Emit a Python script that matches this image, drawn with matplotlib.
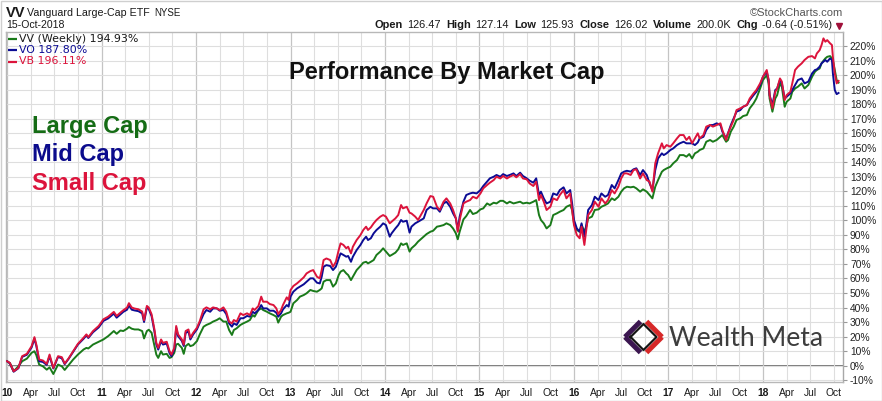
import matplotlib
matplotlib.use("Agg")
import matplotlib.pyplot as plt
from matplotlib.patches import Rectangle

# ---------------- data (decimal year, % performance) ----------------
dates = [
    2010.00, 2010.03, 2010.07, 2010.12, 2010.16, 2010.21, 2010.26, 2010.29, 2010.31, 2010.34,
    2010.38, 2010.42, 2010.45, 2010.49, 2010.54, 2010.58, 2010.61, 2010.65, 2010.70, 2010.75,
    2010.81, 2010.84, 2010.86, 2010.91, 2010.97, 2011.02, 2011.07, 2011.13, 2011.16, 2011.20,
    2011.23, 2011.27, 2011.29, 2011.32, 2011.35, 2011.39, 2011.43, 2011.45, 2011.48, 2011.50,
    2011.53, 2011.56, 2011.58, 2011.60, 2011.63, 2011.65, 2011.69, 2011.72, 2011.74, 2011.77,
    2011.79, 2011.81, 2011.85, 2011.87, 2011.89, 2011.92, 2011.94, 2011.97, 2012.01, 2012.04,
    2012.08, 2012.11, 2012.15, 2012.18, 2012.22, 2012.25, 2012.29, 2012.32, 2012.35, 2012.38,
    2012.40, 2012.43, 2012.47, 2012.50, 2012.54, 2012.57, 2012.60, 2012.62, 2012.66, 2012.69,
    2012.71, 2012.75, 2012.78, 2012.82, 2012.85, 2012.87, 2012.90, 2012.92, 2012.96, 2012.98,
    2013.00, 2013.03, 2013.07, 2013.10, 2013.14, 2013.17, 2013.21, 2013.24, 2013.28, 2013.31,
    2013.33, 2013.35, 2013.38, 2013.42, 2013.45, 2013.48, 2013.51, 2013.53, 2013.56, 2013.59,
    2013.61, 2013.64, 2013.66, 2013.70, 2013.74, 2013.77, 2013.80, 2013.82, 2013.85, 2013.88,
    2013.91, 2013.95, 2013.98, 2014.01, 2014.05, 2014.07, 2014.11, 2014.14, 2014.17, 2014.19,
    2014.23, 2014.26, 2014.28, 2014.32, 2014.35,
    2014.41, 2014.44, 2014.48, 2014.51, 2014.55, 2014.58, 2014.62, 2014.65, 2014.69, 2014.72,
    2014.75, 2014.77, 2014.79, 2014.83, 2014.86, 2014.90, 2014.93, 2014.97, 2015.01, 2015.04,
    2015.08, 2015.11, 2015.15, 2015.18, 2015.22, 2015.25, 2015.29, 2015.32, 2015.36, 2015.39,
    2015.43, 2015.46, 2015.50, 2015.53, 2015.57, 2015.60, 2015.63, 2015.65, 2015.68, 2015.71,
    2015.75, 2015.78, 2015.82, 2015.85, 2015.89, 2015.92, 2015.96, 2015.98, 2016.00, 2016.03,
    2016.06, 2016.08, 2016.11, 2016.13, 2016.15, 2016.19, 2016.22, 2016.26, 2016.29, 2016.33,
    2016.36, 2016.40, 2016.43, 2016.47, 2016.50, 2016.53, 2016.56, 2016.60, 2016.63, 2016.66,
    2016.70, 2016.73, 2016.77,
    2016.80, 2016.83, 2016.86, 2016.89, 2016.93, 2016.95, 2016.98, 2017.02, 2017.05, 2017.09,
    2017.12, 2017.16, 2017.19, 2017.22, 2017.25, 2017.28, 2017.31, 2017.33, 2017.37, 2017.40,
    2017.44, 2017.47, 2017.51, 2017.55, 2017.57, 2017.61, 2017.63, 2017.66, 2017.69, 2017.72,
    2017.76, 2017.79, 2017.83, 2017.86, 2017.90, 2017.93, 2017.97, 2018.00, 2018.04, 2018.06,
    2018.07, 2018.10, 2018.13, 2018.15, 2018.18, 2018.20, 2018.23, 2018.25, 2018.29, 2018.31,
    2018.34, 2018.37, 2018.41, 2018.44, 2018.48, 2018.52, 2018.55, 2018.57, 2018.60, 2018.62,
    2018.64, 2018.66, 2018.68, 2018.71, 2018.73, 2018.74, 2018.76, 2018.78, 2018.80,
]

vb = [  # Small Cap (red)
    3.0, 1.8, -3.9, -1.6, 6.5, 8.1, 13.4, 19.6, 14.5, 4.2,
    3.5, 1.2, 7.6, -1.6, 6.5, 5.8, 1.4, 4.8, 9.9, 15.0,
    19.2, 21.5, 19.6, 23.8, 27.3, 31.9, 33.7, 37.0, 34.2, 36.5,
    38.1, 40.0, 43.0, 40.0, 39.3, 38.8, 37.2, 31.2, 41.1, 40.0,
    35.3, 24.9, 15.7, 12.2, 18.0, 15.7, 16.4, 9.9, 7.6, 12.2,
    27.3, 21.5, 18.0, 14.5, 23.8, 24.9, 19.2, 22.6, 26.1, 30.7,
    38.8, 40.1, 38.8, 40.1, 39.4, 38.3, 40.1, 37.1, 30.3, 29.1,
    31.4, 30.3, 36.0, 34.8, 36.0, 34.8, 39.4, 38.3, 41.0, 47.5,
    44.0, 44.0, 42.4, 41.7, 39.4, 35.5, 38.3, 41.7, 47.0, 45.2,
    52.0, 54.8, 56.7, 58.4, 60.8, 63.5, 65.1, 65.8, 61.2, 60.1,
    65.8, 72.7, 73.8, 72.7, 68.1, 71.5, 79.6, 84.2, 83.1, 80.8,
    81.9, 77.3, 81.9, 86.5, 89.9, 93.4, 95.7, 93.4, 95.2, 98.0,
    100.3, 102.6, 103.7, 102.6, 98.0, 99.1, 101.4, 103.7, 110.6, 108.3,
    109.4, 105.3, 104.8, 102.6, 100.3,
    107.2, 111.7, 116.8, 116.3, 109.4, 107.2, 112.9, 115.2, 111.7, 107.2,
    101.4, 92.2, 100.3, 111.7, 112.9, 114.0, 116.3, 115.2, 118.6, 122.1,
    124.4, 126.0, 127.8, 130.1, 128.9, 130.6, 128.9, 130.1, 131.3, 129.7,
    131.9, 128.9, 128.3, 125.5, 123.7, 126.7, 114.0, 117.5, 112.9, 107.2,
    109.4, 115.2, 114.0, 117.5, 120.9, 115.2, 118.6, 107.2, 96.8, 89.9,
    87.7, 95.7, 83.1, 93.4, 103.7, 107.2, 112.9, 109.4, 115.2, 111.7,
    114.0, 120.9, 118.6, 123.3, 129.0, 132.4, 132.4, 131.3, 134.7, 135.2,
    128.9, 132.4, 127.8,
    126.7, 119.8, 139.3, 146.2, 153.1, 149.6, 151.9, 150.8, 153.1, 156.5,
    158.8, 158.8, 155.4, 157.6, 153.1, 156.5, 160.0, 156.5, 158.8, 164.6,
    165.7, 164.6, 165.7, 166.9, 162.3, 155.4, 160.0, 164.6, 169.2, 176.0,
    177.2, 178.3, 179.5, 184.0, 187.5, 189.8, 194.4, 199.0, 203.6, 196.7,
    186.3, 177.2, 188.6, 190.9, 197.8, 195.6, 182.9, 186.3, 188.6, 194.4,
    203.6, 205.9, 208.2, 210.5, 212.7, 213.2, 211.6, 215.0, 217.3, 220.8,
    225.4, 223.1, 224.2, 222.0, 220.8, 212.7, 201.3, 194.4, 196.11,
]

vo = [  # Mid Cap (blue)
    3.0, 1.5, -4.2, -1.8, 6.0, 7.5, 12.5, 18.5, 13.5, 3.0,
    2.5, 0.5, 6.5, -2.0, 6.0, 5.0, 1.0, 4.5, 9.5, 14.5,
    18.5, 20.8, 19.0, 23.0, 26.3, 30.8, 32.5, 35.8, 33.0, 35.3,
    37.0, 38.5, 41.5, 38.5, 38.0, 37.5, 36.0, 30.0, 40.0, 39.0,
    34.0, 23.5, 14.5, 11.0, 16.8, 14.5, 15.2, 8.5, 6.5, 11.0,
    26.0, 20.3, 17.0, 13.5, 22.5, 23.5, 18.0, 21.5, 25.0, 29.5,
    35.5, 38.3, 37.1, 39.4, 39.4, 37.8, 38.3, 35.5, 29.1, 26.8,
    29.1, 28.0, 32.6, 32.6, 34.2, 33.7, 37.1, 36.0, 38.3, 41.7,
    39.4, 39.4, 37.8, 37.8, 36.4, 33.7, 36.0, 38.7, 41.7, 40.6,
    47.5, 50.9, 53.2, 54.4, 56.0, 57.8, 60.1, 60.1, 57.1, 56.6,
    61.2, 68.1, 69.2, 68.6, 65.8, 68.1, 73.8, 77.3, 76.2, 75.0,
    75.5, 71.5, 75.0, 79.6, 83.1, 86.5, 88.8, 86.5, 87.7, 91.1,
    93.4, 95.7, 98.0, 96.8, 88.8, 91.1, 94.5, 96.8, 100.3, 99.1,
    99.8, 91.6, 95.7, 98.0, 99.1,
    101.4, 107.2, 109.4, 108.3, 108.3, 106.0, 111.7, 112.9, 109.4, 104.9,
    101.4, 93.4, 102.6, 112.9, 117.5, 118.6, 119.1, 118.6, 120.9, 123.7,
    126.7, 129.0, 130.1, 131.3, 130.1, 131.9, 130.6, 131.3, 132.4, 130.6,
    132.9, 130.6, 129.0, 127.4, 126.0, 129.0, 117.5, 119.8, 115.2, 111.7,
    112.9, 118.6, 117.5, 120.9, 122.8, 118.6, 120.9, 111.7, 100.3, 94.5,
    92.2, 98.0, 88.8, 96.8, 107.2, 110.6, 116.3, 114.0, 118.6, 116.3,
    117.5, 124.4, 122.1, 127.8, 132.4, 133.6, 134.2, 133.6, 135.2, 135.9,
    131.3, 134.7, 131.3,
    125.6, 120.9, 134.7, 142.7, 146.2, 145.0, 146.2, 148.5, 149.6, 151.9,
    153.1, 154.2, 153.1, 153.1, 153.1, 151.9, 153.7, 156.5, 157.6, 162.3,
    165.7, 165.7, 166.9, 165.7, 161.2, 156.5, 160.0, 165.7, 170.3, 174.9,
    176.0, 178.3, 179.5, 182.9, 186.3, 188.6, 193.3, 199.0, 202.4, 196.7,
    186.3, 179.5, 189.8, 190.9, 196.7, 194.4, 184.0, 185.2, 187.5, 189.8,
    193.3, 196.7, 197.8, 194.4, 195.6, 201.3, 203.6, 204.0, 205.9, 208.2,
    209.3, 210.5, 209.3, 211.6, 210.5, 201.3, 189.8, 187.0, 187.80,
]

vv = [  # Large Cap (green)
    3.0, 1.8, -3.9, -0.5, 3.0, 4.8, 8.8, 9.9, 7.2, 0.7,
    -0.5, -2.8, -1.2, -5.8, 0.7, -0.5, -3.0, 0.2, 4.2, 7.6,
    11.1, 12.2, 11.8, 14.5, 16.4, 18.0, 20.3, 23.8, 21.9, 24.2,
    23.8, 25.4, 26.6, 25.4, 24.9, 24.9, 23.8, 18.7, 23.8, 24.7,
    22.6, 13.4, 7.6, 5.3, 9.9, 7.6, 8.1, 5.3, 5.8, 8.8,
    14.5, 15.0, 12.2, 8.1, 13.4, 15.0, 13.4, 14.1, 16.9, 21.5,
    26.8, 28.0, 29.1, 30.3, 31.4, 32.6, 30.3, 30.3, 24.5, 21.1,
    24.5, 25.7, 28.0, 29.1, 30.3, 31.4, 34.8, 33.7, 38.3, 39.4,
    38.3, 37.1, 36.0, 34.8, 33.7, 29.6, 33.7, 34.8, 36.0, 36.4,
    37.1, 42.9, 45.2, 47.5, 48.6, 49.8, 52.1, 51.4, 50.9, 52.1,
    53.2, 57.8, 58.9, 58.9, 54.4, 56.6, 62.4, 64.7, 65.8, 63.5,
    62.4, 58.9, 61.2, 65.8, 68.6, 70.9, 71.5, 70.4, 71.5, 72.7,
    76.2, 78.5, 80.8, 78.5, 75.5, 76.2, 77.8, 80.1, 84.2, 83.1,
    84.2, 78.5, 80.8, 83.1, 85.4,
    88.8, 90.6, 92.2, 92.9, 95.7, 96.1, 96.8, 98.0, 96.8, 94.5,
    91.1, 87.0, 92.2, 100.7, 103.0, 107.2, 104.4, 105.3, 107.6, 108.3,
    111.7, 110.6, 112.2, 111.7, 113.5, 113.5, 111.7, 112.9, 111.7, 112.2,
    112.9, 111.7, 112.2, 111.7, 112.9, 114.0, 103.7, 100.3, 98.0, 94.5,
    96.8, 103.7, 104.9, 106.0, 107.2, 109.4, 110.6, 107.2, 98.0, 93.4,
    92.2, 96.8, 92.2, 95.7, 101.4, 102.6, 107.2, 107.6, 109.4, 110.6,
    111.7, 115.2, 114.0, 116.3, 119.8, 122.1, 123.2, 122.8, 123.2, 122.1,
    119.8, 121.4, 119.8,
    117.5, 115.2, 123.2, 127.8, 133.5, 134.7, 135.8, 137.0, 139.3, 141.6,
    145.0, 145.0, 143.9, 145.7, 142.7, 146.2, 147.3, 148.5, 149.6, 154.2,
    155.4, 154.2, 155.4, 157.6, 158.8, 154.2, 155.4, 161.2, 164.6, 169.2,
    170.3, 171.9, 172.6, 177.2, 180.6, 184.0, 190.9, 196.7, 200.1, 194.4,
    184.0, 174.9, 184.0, 186.3, 194.4, 192.1, 178.3, 181.7, 184.0, 188.6,
    190.9, 192.1, 194.4, 190.9, 193.3, 199.0, 202.4, 203.6, 204.7, 208.2,
    210.0, 211.6, 212.7, 213.2, 211.6, 210.5, 203.6, 196.7, 194.93,
]

series_names = ["VV (Weekly)", "VO", "VB"]
series_last = ["194.93%", "187.80%", "196.11%"]
cap_labels = ["Large Cap", "Mid Cap", "Small Cap"]
ytick_vals = list(range(-10, 230, 10))
ytick_labels = [f"{v}%" for v in ytick_vals]
years = list(range(2010, 2019))
year_labels = [f"{y % 100:02d}" for y in years]
month_labels = ["Apr", "Jul", "Oct"]

header_pieces = [("Open", True), ("126.47", False), ("High", True), ("127.14", False),
                 ("Low", True), ("125.93", False), ("Close", True), ("126.02", False),
                 ("Volume", True), ("200.0K", False), ("Chg", True), ("-0.64 (-0.51%)", False)]

GREEN = "#1a7a1a"
BLUE = "#0c0c94"
RED = "#dc143c"

W, H = 882, 401
fig = plt.figure(figsize=(W / 100, H / 100), dpi=100)
fig.patch.set_facecolor("white")

ax_top, ax_bot, ax_l, ax_r = 31.7, 382.0, 6.0, 843.0
ax = fig.add_axes([ax_l / W, (H - ax_bot) / H, (ax_r - ax_l) / W, (ax_bot - ax_top) / H])
ax.set_xlim(2009.989, 2018.847)
ax.set_ylim(-11.3, 230)

# grid
ax.set_yticks(ytick_vals)
ax.set_yticklabels(ytick_labels)
ax.yaxis.tick_right()
ax.set_xticks(years)
ax.set_xticklabels(year_labels)
minor_pos, minor_lab = [], []
for y in years:
    for k, m in enumerate(month_labels):
        p = y + 0.25 * (k + 1)
        if p <= 2018.8:
            minor_pos.append(p)
            minor_lab.append(m)
ax.set_xticks(minor_pos, minor=True)
ax.set_xticklabels(minor_lab, minor=True)
ax.grid(axis="y", which="major", color="#dedede", lw=0.8, zorder=0)
ax.grid(axis="x", which="major", color="#c4c4c4", lw=0.9, zorder=0)
ax.grid(axis="x", which="minor", color="#dedede", lw=0.8, zorder=0)
ax.axhline(0, color="#707070", lw=1.3, zorder=1)

for t in ax.get_xticklabels(which="major"):
    t.set_fontweight("bold")
ax.tick_params(axis="x", which="both", length=0, pad=4, labelsize=7.4,
               labelcolor="#1a1a1a")
ax.tick_params(axis="y", which="major", length=3, width=0.8, color="#999999",
               pad=2, labelsize=7.4, labelcolor="#222222", direction="out")
for lab in ax.get_xticklabels(which="both") + ax.get_yticklabels():
    lab.set_fontfamily(["Liberation Sans", "DejaVu Sans"])
for s in ax.spines.values():
    s.set_color("#b8b8b8")
    s.set_linewidth(1.0)
ax.spines["right"].set_color("#a8a8a8")

ax.plot(dates, vv, color=GREEN, lw=1.4, zorder=3, solid_joinstyle="round")
ax.plot(dates, vo, color=BLUE, lw=1.4, zorder=4, solid_joinstyle="round")
ax.plot(dates, vb, color=RED, lw=1.4, zorder=5, solid_joinstyle="round")

# ---------------- overlay for texts / decoration ----------------
ov = fig.add_axes([0, 0, 1, 1], zorder=10)
ov.set_xlim(0, W)
ov.set_ylim(H, 0)
ov.axis("off")
ov.add_patch(Rectangle((0.5, 0.5), W - 1, H - 1, fill=False, ec="#cfcfcf", lw=1.0))

SANS = ["Liberation Sans", "DejaVu Sans"]
ov.text(6, 13, "VV", fontsize=10.5, fontweight="bold", family=SANS, va="center",
        ha="left", color="#1a1a1a")
ov.text(27, 13, "Vanguard Large-Cap ETF", fontsize=7.7, family=SANS, va="center",
        ha="left", color="#1a1a1a")
ov.text(154, 13.5, "NYSE", fontsize=7.0, family=SANS, va="center", ha="left",
        color="#1a1a1a")
ov.text(6, 25, "15-Oct-2018", fontsize=7.6, family=SANS, va="center", ha="left",
        color="#1a1a1a")
ov.text(843, 12.5, "\u00a9StockCharts.com", fontsize=8.0, family=SANS, va="center",
        ha="right", color="#555555")

# right header, laid out right-to-left
fig.canvas.draw()
renderer = fig.canvas.get_renderer()
xr = 832.5
for i, (txt, bold) in enumerate(reversed(header_pieces)):
    t = ov.text(xr, 25, txt, fontsize=7.9, family=SANS,
                fontweight="bold" if bold else "normal", va="center", ha="right",
                color="#1a1a1a")
    w = t.get_window_extent(renderer=renderer).width
    gap = 4 if not bold else 6
    xr = xr - w - gap
ov.plot([838.5], [25.5], marker="v", ms=5, color="#a0103a", ls="none")

# legend lines
leg_colors = [GREEN, BLUE, RED]
leg_text_colors = ["#1a1a1a", BLUE, RED]
for i, (nm, last) in enumerate(zip(series_names, series_last)):
    yy = 38.5 + 11.5 * i
    ov.plot([7.5, 17], [yy, yy], color=leg_colors[i], lw=1.6, solid_capstyle="butt")
    ov.text(19, yy, f"{nm} {last}", fontsize=7.9, family=["DejaVu Sans"],
            va="center", ha="left", color=leg_text_colors[i])

# title and cap labels
ov.text(447, 73, "Performance By Market Cap", fontsize=17, fontweight="bold",
        family=SANS, ha="center", va="center", color="#111111")
cap_colors = ["#156c15", "#0b0b8c", RED]
for i, lab in enumerate(cap_labels):
    ov.text(32, 126 + 28.8 * i, lab, fontsize=17, fontweight="bold", family=SANS,
            ha="left", va="center", color=cap_colors[i])

# Wealth Meta logo
cx, cy = 643.5, 337.0
r = 18.5
purple, lred = "#3b1650", "#d62828"
g = 3.0
ov.plot([cx - r, cx - g], [cy, cy - r + g], color=purple, lw=3.6, solid_capstyle="butt")
ov.plot([cx - r, cx - g], [cy, cy + r - g], color=purple, lw=3.6, solid_capstyle="butt")
ov.plot([cx + g, cx + r], [cy - r + g, cy], color=lred, lw=3.6, solid_capstyle="butt")
ov.plot([cx + g, cx + r], [cy + r - g, cy], color=lred, lw=3.6, solid_capstyle="butt")
ri = 13.0
ov.plot([cx - ri, cx, cx + ri, cx, cx - ri], [cy, cy - ri, cy, cy + ri, cy],
        color="#151515", lw=1.6)
ov.text(669, 338, "Wealth Meta", fontsize=19.2, family=["Lato", "DejaVu Sans"],
        ha="left", va="center", color="#3d3d3d")

fig.savefig("out.png", dpi=100, facecolor="white")
